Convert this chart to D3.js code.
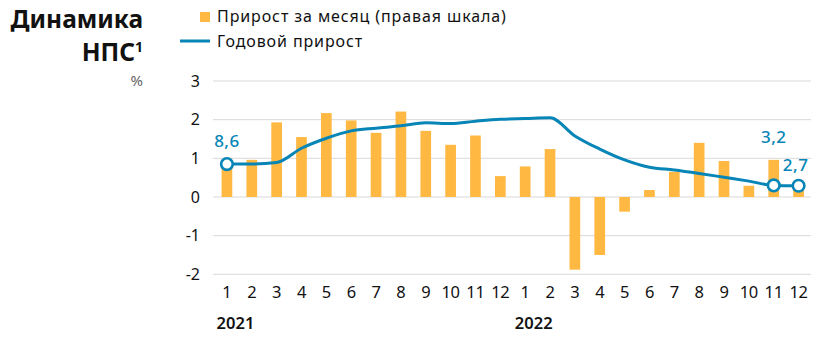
<!DOCTYPE html>
<html><head><meta charset="utf-8">
<script src="https://cdn.jsdelivr.net/npm/d3@7"></script>
<style>body{margin:0;background:#fff}svg{display:block}text{font-family:"Noto Sans",sans-serif}</style>
</head><body>
<script>
const months = ["1","2","3","4","5","6","7","8","9","10","11","12","1","2","3","4","5","6","7","8","9","10","11","12"];
const years = ["2021","2022"];
const monthly = [0.95,0.96,1.93,1.55,2.17,1.98,1.66,2.21,1.71,1.35,1.59,0.54,0.79,1.24,-1.88,-1.50,-0.38,0.18,0.65,1.40,0.93,0.29,0.96,0.25];
const annual = [8.5,8.5,8.9,12.6,15.2,17.1,17.8,18.4,19.2,19.0,19.6,20.1,20.3,20.5,15.8,12.4,9.6,7.7,7.0,6.1,5.1,4.1,3.0,2.9];
const annualLabels = [{i:0,t:"8,6"},{i:22,t:"3,2"},{i:23,t:"2,7"}];
const yTicks = [3,2,1,0,-1,-2];

const W=826,H=340;
const svg=d3.select("body").append("svg").attr("width",W).attr("height",H);
const ids=d3.range(months.length);
const x=d3.scaleBand().domain(ids).range([214.5,811]).paddingInner(0.57).paddingOuter(0.285);
const y=d3.scaleLinear().domain([-2,3]).range([274.3,81]);
const y2=d3.scaleLinear().domain([-20,30]).range([274.3,81]);
const blue="#0685B6", orange="#FFB943";

// grid
svg.append("g").selectAll("line").data(yTicks).join("line")
 .attr("x1",213).attr("x2",811).attr("y1",d=>y(d)).attr("y2",d=>y(d))
 .attr("stroke","#d9d9d9").attr("stroke-width",1);
// y labels
const ya=d3.axisLeft(y).tickValues(yTicks).tickSize(0).tickPadding(0).tickFormat(d=>String(d));
const yg=svg.append("g").attr("transform","translate(200,0)").call(ya);
yg.select(".domain").remove();
yg.selectAll("text").attr("font-size",16).attr("fill","#111").attr("font-family","Noto Sans");

// bars
svg.append("g").selectAll("rect").data(monthly).join("rect")
 .attr("x",(d,i)=>x(i)).attr("width",x.bandwidth())
 .attr("y",d=>y(Math.max(0,d))).attr("height",d=>Math.abs(y(d)-y(0)))
 .attr("fill",orange);

// x axis labels
const cx=i=>x(i)+x.bandwidth()/2;
const xa=d3.axisBottom(x).tickSize(0).tickPadding(0).tickFormat(i=>months[i]);
const xg=svg.append("g").attr("transform","translate(0,286)").call(xa);
xg.select(".domain").remove();
xg.selectAll("text").attr("font-size",16.5).attr("fill","#111").attr("font-family","Noto Sans").attr("letter-spacing","-0.3");
svg.append("g").selectAll("text").data(years).join("text")
 .attr("x",(d,i)=>x(i*12)-5).attr("y",329).attr("font-size",16.5).attr("font-weight",600).attr("fill","#111").text(d=>d);

// line
const line=d3.line().x((d,i)=>cx(i)).y(d=>y2(d)).curve(d3.curveMonotoneX);
svg.append("path").datum(annual).attr("d",line).attr("fill","none").attr("stroke",blue).attr("stroke-width",3);
svg.append("g").selectAll("circle").data(annualLabels).join("circle")
 .attr("cx",d=>cx(d.i)).attr("cy",d=>y2(annual[d.i])).attr("r",5.8)
 .attr("fill","#fff").attr("stroke",blue).attr("stroke-width",2.6);
const lblPos={0:[0,-17],22:[0,-42],23:[-3,-15]};
svg.append("g").selectAll("text").data(annualLabels).join("text")
 .attr("x",d=>cx(d.i)+lblPos[d.i][0]).attr("y",d=>y2(annual[d.i])+lblPos[d.i][1])
 .attr("text-anchor","middle").attr("font-size",17).attr("font-weight",500).attr("letter-spacing","0.5").attr("fill",blue).text(d=>d.t);

// title
svg.append("text").attr("x",143).attr("y",28).attr("text-anchor","end").attr("font-size",24.5).attr("font-weight",700).attr("fill","#111").text("Динамика");
const t2=svg.append("text").attr("x",143).attr("y",61).attr("text-anchor","end").attr("font-size",24.5).attr("font-weight",700).attr("fill","#111");
t2.append("tspan").text("НПС");
t2.append("tspan").attr("font-size",14).attr("dy",-9).text("1");
svg.append("text").attr("x",143).attr("y",86).attr("text-anchor","end").attr("font-size",15).attr("fill","#666").text("%");

// legend
svg.append("rect").attr("x",200).attr("y",12).attr("width",10).attr("height",10).attr("fill",orange);
svg.append("text").attr("x",217).attr("y",22).attr("font-size",16).attr("letter-spacing","0.9").attr("fill","#111").text("Прирост за месяц (правая шкала)");
svg.append("line").attr("x1",180).attr("x2",210).attr("y1",41).attr("y2",41).attr("stroke",blue).attr("stroke-width",3);
svg.append("text").attr("x",217).attr("y",47).attr("font-size",16).attr("letter-spacing","0.9").attr("fill","#111").text("Годовой прирост");
</script>
</body></html>
